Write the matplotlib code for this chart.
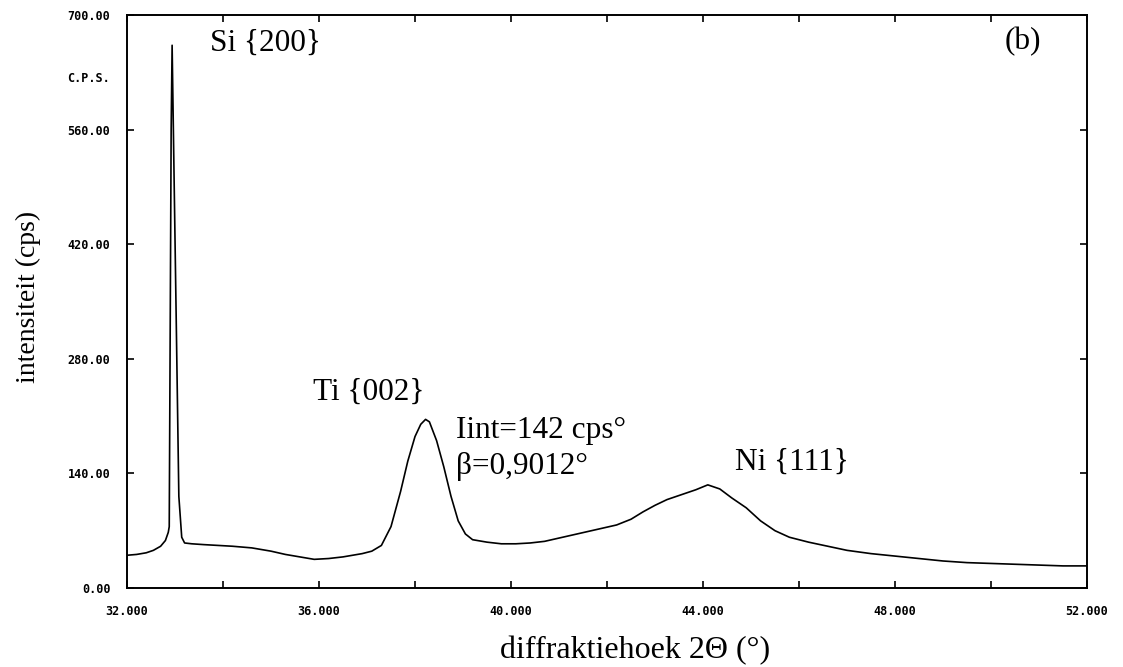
import matplotlib
matplotlib.use("Agg")
import matplotlib.pyplot as plt
from matplotlib.ticker import FixedLocator

# Diffraction scan: 2-theta (degrees) vs intensity (counts per second)
two_theta = [32.00, 32.20, 32.40, 32.55, 32.70, 32.80, 32.86, 32.88, 32.92, 32.94,
             32.98, 33.03, 33.08, 33.14, 33.20, 33.35, 33.60, 33.90, 34.20, 34.60,
             35.00, 35.30, 35.60, 35.90, 36.20, 36.50, 36.90, 37.10, 37.30, 37.50,
             37.70, 37.85, 38.00, 38.12, 38.22, 38.30, 38.45, 38.60, 38.75, 38.90,
             39.05, 39.20, 39.50, 39.80, 40.10, 40.40, 40.70, 41.00, 41.30, 41.60,
             41.90, 42.20, 42.50, 42.75, 43.00, 43.25, 43.55, 43.85, 44.10, 44.35,
             44.60, 44.90, 45.20, 45.50, 45.80, 46.20, 46.60, 47.00, 47.50, 48.00,
             48.50, 49.00, 49.50, 50.00, 50.50, 51.00, 51.50, 52.00]
intensity = [40, 41, 43, 46, 51, 58, 68, 75, 560, 663,
             505, 310, 112, 62, 55, 54, 53, 52, 51, 49,
             45, 41, 38, 35, 36, 38, 42, 45, 52, 75,
             118, 155, 185, 200, 206, 203, 180, 148, 112, 82,
             66, 59, 56, 54, 54, 55, 57, 61, 65, 69,
             73, 77, 84, 93, 101, 108, 114, 120, 126, 121,
             110, 98, 82, 70, 62, 56, 51, 46, 42, 39,
             36, 33, 31, 30, 29, 28, 27, 27]

x_major = [32, 36, 40, 44, 48, 52]
x_minor = [34, 38, 42, 46, 50]
x_labels = ["32.000", "36.000", "40.000", "44.000", "48.000", "52.000"]
y_major = [0, 140, 280, 420, 560, 700]
y_labels = ["0.00", "140.00", "280.00", "420.00", "560.00", "700.00"]

peak_labels = ["Si {200}", "Ti {002}", "Iint=142 cps°", "β=0,9012°", "Ni {111}", "(b)"]
peak_label_pos = [(33.73, 666), (35.875, 239), (38.85, 193), (38.85, 149), (44.67, 154), (50.29, 668)]

W, H = 1123, 667
fig = plt.figure(figsize=(W / 100, H / 100), dpi=100)
ax = fig.add_axes([127 / W, 1 - 588 / H, (1087 - 127) / W, (588 - 15) / H])

ax.plot(two_theta, intensity, color="black", lw=1.2)
ax.set_xlim(32, 52)
ax.set_ylim(0, 700)

for s in ax.spines.values():
    s.set_linewidth(1.4)

tick_font = dict(family="DejaVu Sans Mono", weight="bold", size=8.5)
ax.xaxis.set_major_locator(FixedLocator(x_major))
ax.xaxis.set_minor_locator(FixedLocator(x_minor))
ax.set_xticklabels(x_labels, **tick_font)
ax.yaxis.set_major_locator(FixedLocator(y_major))
ax.set_yticklabels(y_labels, **tick_font)
ax.tick_params(axis="both", which="both", direction="in", length=5, width=1.2,
               top=True, right=True)
ax.tick_params(axis="x", which="major", pad=12)
ax.tick_params(axis="y", which="major", pad=12)

fig.text(110 / W, 1 - 79 / H, "C.P.S.", ha="right", va="center", **tick_font)

serif = "Liberation Serif"
for txt, (xv, yv) in zip(peak_labels, peak_label_pos):
    ax.text(xv, yv, txt, family=serif, fontsize=22.5, ha="left", va="center")

fig.text(635 / W, 1 - 651 / H, "diffraktiehoek 2Θ (°)", family=serif, fontsize=23,
         ha="center", va="center")
fig.text(28 / W, 1 - 297 / H, "intensiteit (cps)", family=serif, fontsize=20,
         ha="center", va="center", rotation=90)

fig.savefig("out.png", dpi=100)
